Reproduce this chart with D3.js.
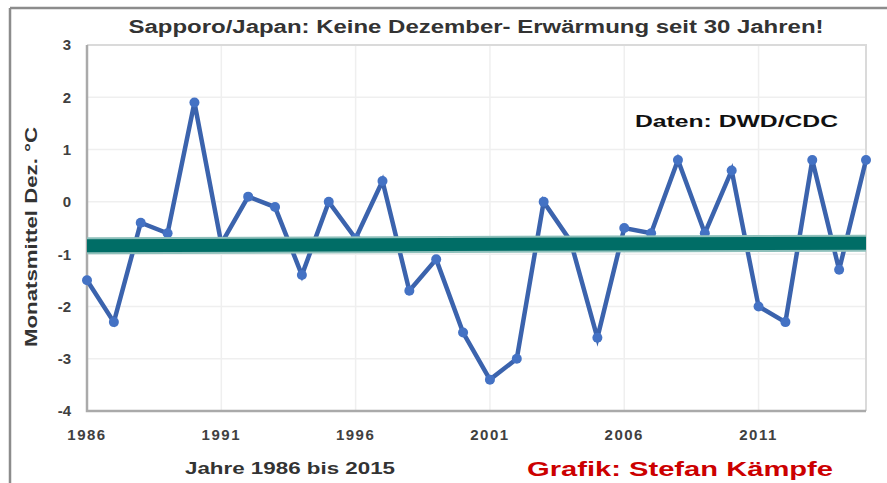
<!DOCTYPE html>
<html>
<head>
<meta charset="utf-8">
<script src="https://cdn.jsdelivr.net/npm/d3@7"></script>
<style>
  html, body { margin: 0; padding: 0; background: #fff; }
  svg { display: block; font-family: "Liberation Sans", Arial, sans-serif; }
</style>
</head>
<body>
<svg id="chart" width="887" height="483"></svg>
<script>
// Dezember-Monatsmittel Sapporo
const years = d3.range(1986, 2016);
const temps = [-1.5, -2.3, -0.4, -0.6, 1.9, -0.8, 0.1, -0.1, -1.4, 0.0,
               -0.7, 0.4, -1.7, -1.1, -2.5, -3.4, -3.0, 0.0, -0.75, -2.6,
               -0.5, -0.6, 0.8, -0.6, 0.6, -2.0, -2.3, 0.8, -1.3, 0.8];
const trendYears = [1986, 2015];
const trendValues = [-0.84, -0.79];
const xTicks = [1986, 1991, 1996, 2001, 2006, 2011];
const yTicks = [-4, -3, -2, -1, 0, 1, 2, 3];

const svg = d3.select("#chart");
const pLeft = 87, pRight = 866, pTop = 45, pBottom = 411;

const x = d3.scaleLinear().domain([1986, 2015]).range([pLeft, pRight]);
const y = d3.scaleLinear().domain([-4, 3]).range([pBottom, pTop]);

// outer frame (left + top)
svg.append("line").attr("x1", 10).attr("x2", 10).attr("y1", 8).attr("y2", 483)
  .attr("stroke", "#8c8c8c").attr("stroke-width", 2.5);
svg.append("line").attr("x1", 10).attr("x2", 887).attr("y1", 8).attr("y2", 8)
  .attr("stroke", "#8c8c8c").attr("stroke-width", 2.5);

// grid
svg.append("g").selectAll("line").data(yTicks).enter().append("line")
  .attr("x1", pLeft).attr("x2", pRight)
  .attr("y1", d => y(d)).attr("y2", d => y(d))
  .attr("stroke", "#efefef").attr("stroke-width", 1.5);
svg.append("g").selectAll("line").data(xTicks.slice(1)).enter().append("line")
  .attr("x1", d => x(d)).attr("x2", d => x(d))
  .attr("y1", pTop).attr("y2", pBottom)
  .attr("stroke", "#efefef").attr("stroke-width", 1.5);

// plot frame
svg.append("path")
  .attr("d", `M${pLeft},${pTop}H${pRight}V${pBottom}`)
  .attr("fill", "none").attr("stroke", "#dadada").attr("stroke-width", 2);
svg.append("path")
  .attr("d", `M${pLeft},${pTop}V${pBottom}H${pRight}`)
  .attr("fill", "none").attr("stroke", "#aaaaaa").attr("stroke-width", 2.5);

// tick labels
svg.append("g").selectAll("text").data(yTicks).enter().append("text")
  .attr("x", 71).attr("y", d => y(d)).attr("dy", "0.36em")
  .attr("text-anchor", "end")
  .attr("font-size", 15).attr("font-weight", "bold").attr("fill", "#404040")
  .text(d => d);
svg.append("g").selectAll("text").data(xTicks).enter().append("text")
  .attr("x", d => x(d)).attr("y", 440)
  .attr("text-anchor", "middle")
  .attr("font-size", 15).attr("font-weight", "bold").attr("fill", "#404040")
  .attr("letter-spacing", 1.5)
  .text(d => d);

// data line
const line = d3.line().x((d, i) => x(years[i])).y(d => y(d));
svg.append("path").datum(temps)
  .attr("d", line)
  .attr("fill", "none").attr("stroke", "#3b63ad").attr("stroke-width", 4.5)
  .attr("stroke-linejoin", "miter");
svg.append("g").selectAll("circle").data(temps).enter().append("circle")
  .attr("cx", (d, i) => x(years[i])).attr("cy", d => y(d))
  .attr("r", 5).attr("fill", "#4472c4");

// trend
const trend = d3.line().x((d, i) => x(trendYears[i])).y(d => y(d));
svg.append("path").datum(trendValues).attr("d", trend)
  .attr("stroke", "#8fc0bb").attr("stroke-width", 17);
svg.append("path").datum(trendValues).attr("d", trend)
  .attr("stroke", "#006d66").attr("stroke-width", 13);

// texts
svg.append("text").attr("x", 476).attr("y", 33).attr("text-anchor", "middle")
  .attr("font-size", 18).attr("font-weight", "bold").attr("fill", "#333")
  .attr("textLength", 695).attr("lengthAdjust", "spacingAndGlyphs")
  .text("Sapporo/Japan:  Keine Dezember- Erwärmung seit 30 Jahren!");
svg.append("text").attr("x", 635).attr("y", 127)
  .attr("font-size", 16).attr("font-weight", "bold").attr("fill", "#111")
  .attr("textLength", 203).attr("lengthAdjust", "spacingAndGlyphs")
  .text("Daten: DWD/CDC");
svg.append("text").attr("transform", "translate(37,237) rotate(-90)")
  .attr("text-anchor", "middle")
  .attr("font-size", 16).attr("font-weight", "bold").attr("fill", "#333")
  .attr("textLength", 220).attr("lengthAdjust", "spacingAndGlyphs")
  .text("Monatsmittel Dez. °C");
svg.append("text").attr("x", 185).attr("y", 474)
  .attr("font-size", 17).attr("font-weight", "bold").attr("fill", "#333")
  .attr("textLength", 210).attr("lengthAdjust", "spacingAndGlyphs")
  .text("Jahre 1986 bis 2015");
svg.append("text").attr("x", 527).attr("y", 476)
  .attr("font-size", 21).attr("font-weight", "bold").attr("fill", "#cc0000")
  .attr("textLength", 306).attr("lengthAdjust", "spacingAndGlyphs")
  .text("Grafik: Stefan Kämpfe");
</script>
</body>
</html>
